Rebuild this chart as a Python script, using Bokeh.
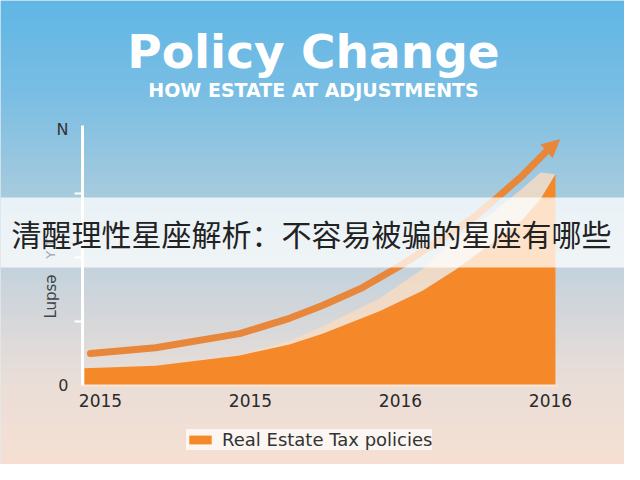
import numpy as np
from bokeh.plotting import figure
from bokeh.models import (Range1d, LinearAxis, FixedTicker, Label, Legend,
                          LegendItem, Arrow, NormalHead)
from bokeh.embed import file_html
from bokeh.resources import INLINE

# ---------------- data ----------------
x_tick_pos = [0, 1, 2, 3]
x_tick_labels = ["2015", "2015", "2016", "2016"]
y_tick_pos = [0, 4]
y_tick_labels = ["0", "N"]
y_minor_ticks = [1, 2, 3]

area_x = [-0.107, 0.367, 0.927, 1.26, 1.48, 1.86, 2.147, 2.367, 2.613, 2.813, 2.933, 3.033]
area_y = [0.27, 0.31, 0.47, 0.64, 0.81, 1.16, 1.48, 1.81, 2.23, 2.59, 2.91, 3.30]
glow_y = [0.27, 0.31, 0.48, 0.70, 0.92, 1.36, 1.82, 2.30, 2.70, 3.08, 3.33, 3.30]

line_x = [-0.067, 0.367, 0.927, 1.26, 1.48, 1.747, 2.013, 2.28, 2.48, 2.647, 2.813, 2.96]
line_y = [0.50, 0.59, 0.81, 1.05, 1.25, 1.53, 1.89, 2.30, 2.61, 2.94, 3.28, 3.63]
arrow_tip_x = 3.06
arrow_tip_y = 3.84

title_text = "Policy Change"
subtitle_text = "HOW ESTATE AT ADJUSTMENTS"
banner_text = "清醒理性星座解析：不容易被骗的星座有哪些"
series_name = "Real Estate Tax policies"
y_axis_text = "Lupsǝ"
y_axis_text2 = "Y    T"

# ---------------- layout ----------------
W, H = 624, 464
X0, XS = 100.0, 150.0   # canvas px of x=0, px per unit
Y0, YS = 385.0, 64.0    # canvas px (from top) of y=0, px per unit


def px2x(ref_px):
    return ((ref_px - 8) - X0) / XS


def py2y(ref_py):
    return (Y0 - (ref_py - 8)) / YS


p = figure(width=W, height=H, output_backend="svg", toolbar_location=None,
           x_range=Range1d(-X0 / XS, (W - X0) / XS),
           y_range=Range1d((Y0 - H) / YS, Y0 / YS),
           x_axis_location=None, y_axis_location=None,
           min_border=0, min_border_left=0, min_border_right=0,
           min_border_top=0, min_border_bottom=0)
p.outline_line_color = None
p.grid.visible = False
p.background_fill_color = "#c8d6e0"
p.border_fill_color = "#c8d6e0"

# background gradient (sky blue -> peach)
stops_y = [0, 100, 200, 300, 380, 480]
stops_c = [(94, 182, 230), (122, 190, 228), (166, 203, 222),
           (205, 213, 220), (232, 222, 216), (248, 224, 210)]
img = np.empty((H, 2), dtype=np.uint32)
view = img.view(dtype=np.uint8).reshape((H, 2, 4))
for i in range(H):
    ry = 8 + (H - 1 - i) + 0.5
    for k in range(3):
        view[i, :, k] = int(np.interp(ry, stops_y, [s[k] for s in stops_c]))
    view[i, :, 3] = 255
p.image_rgba(image=[img], x=p.x_range.start, y=p.y_range.start,
             dw=p.x_range.end - p.x_range.start, dh=p.y_range.end - p.y_range.start)

ORANGE = "#f5892a"
LINE_ORANGE = "#e8873a"

p.varea(x=area_x, y1=area_y, y2=glow_y, fill_color="#f9dcc2", fill_alpha=0.8)
area_r = p.varea(x=area_x, y1=0, y2=area_y, fill_color=ORANGE)
p.line(line_x, line_y, line_color=LINE_ORANGE, line_width=7, line_cap="round",
       line_join="round")
p.add_layout(Arrow(end=NormalHead(size=17, fill_color=LINE_ORANGE, line_color=LINE_ORANGE),
                   x_start=line_x[-1], y_start=line_y[-1],
                   x_end=arrow_tip_x, y_end=arrow_tip_y,
                   line_color=LINE_ORANGE, line_width=7))

# axes
yaxis = LinearAxis(fixed_location=px2x(90), bounds=(0, py2y(133)),
                   ticker=FixedTicker(ticks=y_tick_pos, minor_ticks=y_minor_ticks),
                   major_label_overrides={k: v for k, v in zip(y_tick_pos, y_tick_labels)})
yaxis.axis_line_color = "white"
yaxis.axis_line_width = 3
yaxis.major_tick_out = 0
yaxis.major_tick_in = 0
yaxis.minor_tick_out = 8
yaxis.minor_tick_in = 0
yaxis.minor_tick_line_color = "white"
yaxis.minor_tick_line_width = 2
yaxis.major_label_standoff = 6
yaxis.major_label_text_font = "DejaVu Sans"
yaxis.major_label_text_font_size = "16px"
yaxis.major_label_text_color = "#333333"
p.add_layout(yaxis, "left")

xaxis = LinearAxis(fixed_location=0, bounds=(px2x(90), px2x(565)),
                   ticker=FixedTicker(ticks=x_tick_pos, minor_ticks=[]),
                   major_label_overrides={k: v for k, v in zip(x_tick_pos, x_tick_labels)})
xaxis.axis_line_color = "#fbe6d6"
xaxis.axis_line_width = 2
xaxis.major_tick_line_color = None
xaxis.minor_tick_line_color = None
xaxis.major_label_standoff = 2
xaxis.major_label_text_font = "DejaVu Sans"
xaxis.major_label_text_font_size = "17px"
xaxis.major_label_text_color = "#2a2a2a"
p.add_layout(xaxis, "below")

# rotated y label
p.add_layout(Label(x=px2x(58), y=py2y(304), text=y_axis_text, angle=np.pi / 2,
                   text_align="center", text_baseline="middle",
                   text_font="DejaVu Sans", text_font_size="15px", text_color="#444444"))
p.add_layout(Label(x=px2x(58), y=py2y(250), text=y_axis_text2, angle=np.pi / 2,
                   text_align="center", text_baseline="middle",
                   text_font="DejaVu Sans", text_font_size="13px", text_color="#9aa6ae"))

# titles
p.add_layout(Label(x=px2x(321), y=py2y(59), text=title_text,
                   text_align="center", text_baseline="middle",
                   text_font="DejaVu Sans", text_font_style="bold",
                   text_font_size="47px", text_color="white"))
p.add_layout(Label(x=px2x(321), y=py2y(97), text=subtitle_text,
                   text_align="center", text_baseline="middle",
                   text_font="DejaVu Sans", text_font_style="bold",
                   text_font_size="19px", text_color="white"))

# translucent banner
p.quad(left=p.x_range.start, right=p.x_range.end, bottom=py2y(275), top=py2y(205),
       fill_color="white", fill_alpha=0.75, line_color=None)
p.add_layout(Label(x=px2x(319), y=py2y(240), text=banner_text,
                   text_align="center", text_baseline="middle",
                   text_font="Noto Sans CJK SC", text_font_size="30px",
                   text_color="#222222"))

legend = Legend(items=[LegendItem(label=series_name, renderers=[area_r])],
                location=(186, 14), orientation="horizontal",
                background_fill_color="white", background_fill_alpha=0.7,
                border_line_color=None, padding=4, margin=0,
                glyph_width=28, glyph_height=11, label_standoff=8,
                label_text_font="DejaVu Sans", label_text_font_size="18px",
                label_text_color="#333333")
p.add_layout(legend)

open("out.html", "w").write(file_html(p, INLINE))
